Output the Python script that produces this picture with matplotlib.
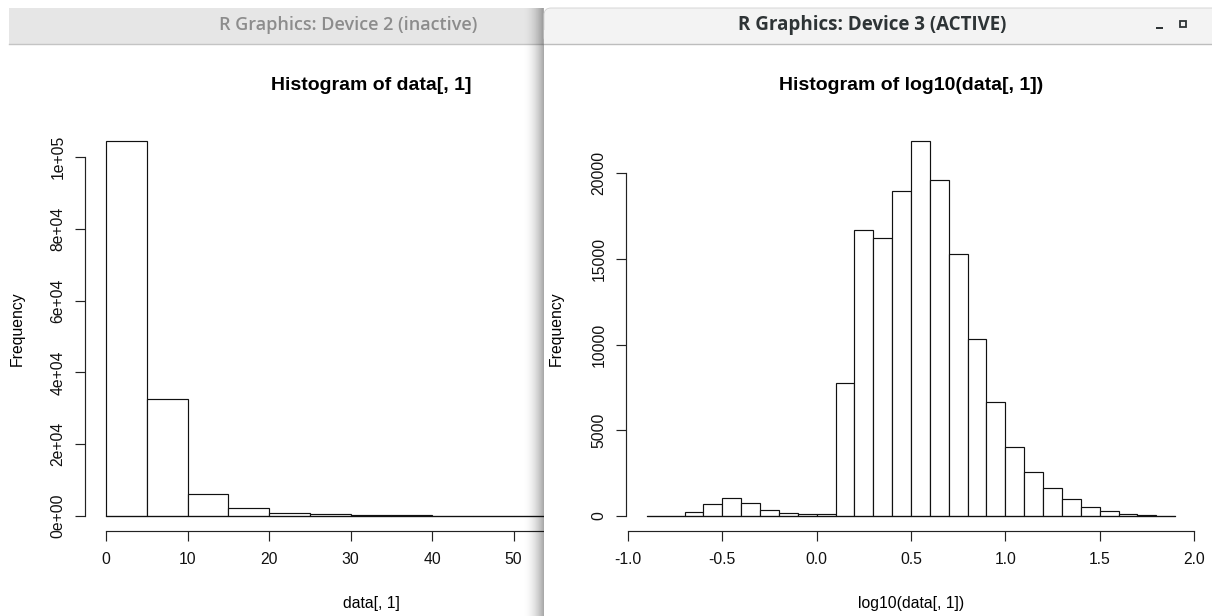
import numpy as np
import matplotlib.pyplot as plt
from matplotlib.patches import Rectangle, FancyBboxPatch

# Datos (dos ventanas de R con hist()).
raw_breaks = np.arange(0, 70, 5)
raw_counts = [104450, 32530, 6000, 2250, 950, 560, 290, 180, 100, 60, 40, 25, 15]

log_breaks = np.round(np.arange(-0.9, 1.95, 0.1), 1)
log_counts = [10, 20, 230, 680, 1030, 760, 330, 175, 100, 100,
              7740, 16670, 16230, 18990, 21880, 19630, 15270, 10330, 6650, 4030,
              2590, 1650, 1010, 545, 270, 135, 60, 10]

raw_xticks = np.arange(0, 70, 10)
raw_yticks = np.arange(0, 120000, 20000)
raw_ylabels = ['0e+00', '2e+04', '4e+04', '6e+04', '8e+04', '1e+05']
log_xticks = np.arange(-1.0, 2.5, 0.5)
log_xlabels = ['%.1f' % v for v in log_xticks]
log_yticks = np.arange(0, 25000, 5000)
log_ylabels = ['%d' % v for v in log_yticks]

W, H = 1212, 616
plot_font = 'Liberation Sans'
bar_font = 'Open Sans'
fs = 11.3


def px_axes(x0, x1, y0, y1, **kw):
    # caja en píxeles (origen arriba a la izquierda)
    return fig.add_axes([x0 / W, 1 - y1 / H, (x1 - x0) / W, (y1 - y0) / H], **kw)


def histograma_r(ax, breaks, counts, xticks, xlabels, yticks, ylabels, xlim, ylim,
                 title, xlabel, ylab_x):
    ax.bar(breaks[:-1], counts, width=np.diff(breaks), align='edge',
           facecolor='white', edgecolor='#111111', linewidth=0.85)
    ax.plot([breaks[0], breaks[-1]], [0, 0], color='#111111', lw=0.85)
    ax.set_xlim(*xlim)
    ax.set_ylim(*ylim)
    ax.patch.set_alpha(0)
    for s in ['top', 'right']:
        ax.spines[s].set_visible(False)
    ax.spines['left'].set_bounds(yticks[0], yticks[-1])
    ax.spines['bottom'].set_bounds(xticks[0], xticks[-1])
    for s in ['left', 'bottom']:
        ax.spines[s].set_linewidth(0.85)
        ax.spines[s].set_color('#222222')
    ax.set_xticks(xticks)
    ax.set_xticklabels(xlabels, family=plot_font)
    ax.set_yticks(yticks)
    ax.set_yticklabels(ylabels, family=plot_font, rotation=90, va='center')
    ax.tick_params(axis='both', length=7, width=0.85, color='#222222',
                   labelsize=fs, labelcolor='#111111')
    ax.tick_params(axis='x', pad=8)
    ax.tick_params(axis='y', pad=7)
    ax.text(ylab_x, 0.5, 'Frequency', transform=ax.transAxes, rotation=90,
            ha='center', va='center', fontsize=fs, family=plot_font)
    ax.text(0.5, -0.178, xlabel, transform=ax.transAxes, ha='center', va='center',
            fontsize=fs, family=plot_font)
    ax.text(0.5, 1.101, title, transform=ax.transAxes, ha='center', va='center',
            fontsize=14, fontweight='bold', family=plot_font)


fig = plt.figure(figsize=(W / 100, H / 100), dpi=100)

# fondo y ventana izquierda (inactiva)
bg = px_axes(0, W, 0, H, zorder=0)
bg.set_xlim(0, W)
bg.set_ylim(H, 0)
bg.axis('off')
bg.add_patch(Rectangle((9, 8), 534, 36, facecolor='#e6e6e6', edgecolor='none'))
bg.plot([9, 543], [44, 44], color='#c4c4c4', lw=1)
bg.text(348, 25, 'R Graphics: Device 2 (inactive)', ha='center', va='center',
        fontsize=13, fontweight='semibold', family=bar_font, color='#8c8c8c')

ax1 = px_axes(85, 657, 126, 531, zorder=1)
histograma_r(ax1, raw_breaks, raw_counts, raw_xticks, [str(v) for v in raw_xticks],
             raw_yticks, raw_ylabels, (-2.6, 67.6), (-4178, 108628),
             'Histogram of data[, 1]', 'data[, 1]', (17 - 85) / 572)

# ventana derecha (activa) encima
ov = px_axes(0, W, 0, H, zorder=2)
ov.set_xlim(0, W)
ov.set_ylim(H, 0)
ov.axis('off')
ov.patch.set_alpha(0)
grad = np.linspace(0, 1, 64)[None, :] ** 2
ov.imshow(np.zeros_like(grad), extent=(522, 544, H, 8), cmap='Greys_r', vmin=0, vmax=1,
          alpha=grad * 0.35, aspect='auto')
ov.add_patch(FancyBboxPatch((544, 8), W - 544 + 20, H, boxstyle='round,pad=0,rounding_size=7',
                            facecolor='white', edgecolor='none'))
ov.add_patch(FancyBboxPatch((544, 8), W - 544 + 20, 36, boxstyle='round,pad=0,rounding_size=7',
                            facecolor='#f3f3f3', edgecolor='#d0d0d0', lw=0.6))
ov.add_patch(Rectangle((544, 30), W - 544, 14, facecolor='#f3f3f3', edgecolor='none'))
ov.plot([544, W], [44, 44], color='#bdbdbd', lw=1)
ov.text(872, 25, 'R Graphics: Device 3 (ACTIVE)', ha='center', va='center',
        fontsize=13.5, fontweight='bold', family=bar_font, color='#2e3436')
ov.add_patch(Rectangle((1156, 27), 7, 2, facecolor='#2e3436', edgecolor='none'))
ov.add_patch(Rectangle((1180, 21), 6, 6, facecolor='none', edgecolor='#2e3436', lw=1.3))
ov.set_xlim(0, W)
ov.set_ylim(H, 0)

ax2 = px_axes(625.7, 1196.3, 126, 531, zorder=3)
histograma_r(ax2, log_breaks, log_counts, log_xticks, log_xlabels, log_yticks, log_ylabels,
             (-1.012, 2.012), (-875, 22755), 'Histogram of log10(data[, 1])',
             'log10(data[, 1])', (556 - 625.7) / 570.6)

fig.savefig('out.png', dpi=100)
